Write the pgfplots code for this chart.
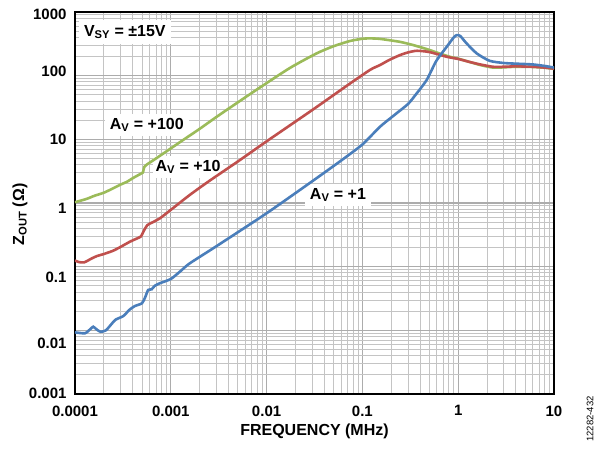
\documentclass[border=0pt]{standalone}
\usepackage{pgfplots}
\pgfplotsset{compat=1.18}
\usepackage{fontspec}
\setmainfont{Liberation Sans}
\definecolor{cgreen}{RGB}{155,187,89}
\definecolor{cred}{RGB}{192,80,77}
\definecolor{cblue}{RGB}{74,126,187}
\definecolor{gridmaj}{RGB}{172,172,172}
\definecolor{gridmin}{RGB}{196,196,196}
\newcommand{\lab}{\fontsize{16}{18}\selectfont\bfseries}
\newcommand{\tlab}{\fontsize{15}{17}\selectfont\bfseries}
\newcommand{\yl}[2]{\smash{\raisebox{#1}{#2}}}
\begin{document}
\begin{tikzpicture}
\useasboundingbox (0,0) rectangle (602pt,450pt);
\begin{axis}[
  at={(75pt,56pt)}, anchor=south west,
  width=479pt, height=382pt, scale only axis,
  xmode=log, ymode=log,
  xmin=1e-4, xmax=10, ymin=1e-3, ymax=1000,
  xtick={1e-4,1e-3,1e-2,1e-1,1,10},
  xticklabels={0.0001,0.001,0.01,0.1,1,10},
  ytick={1e-3,1e-2,1e-1,1,10,100,1000},
  yticklabels={\yl{-4.5pt}{0.001},\yl{-18.5pt}{0.01},\yl{-15.5pt}{0.1},\yl{-10.5pt}{1},\yl{-5.5pt}{10},\yl{-0.5pt}{100},\yl{-7.5pt}{1000}},
  /pgf/number format/assume math mode=true,
  grid=both,
  major grid style={color=gridmaj, line width=1.3pt},
  minor grid style={color=gridmin, line width=0.9pt},
  major tick length=0pt, minor tick length=0pt,
  axis line style={black, line width=1.5pt},
  ticklabel style={font=\tlab},
  xticklabel style={yshift=-8pt},
  yticklabel style={xshift=-5pt},
  xlabel={FREQUENCY (MHz)},
  ylabel={Z\textsubscript{OUT} (Ω)},
  label style={font=\lab},
  xlabel style={at={(axis description cs:0.5,-0.097)}, anchor=center},
  ylabel style={at={(axis description cs:-0.115,0.47)}, anchor=center},
]
\node[fill=white, inner xsep=5pt, inner ysep=5pt, font=\lab] at (rel axis cs:0.104,0.948) {V\textsubscript{SY} = ±15V};
\node[fill=white, inner xsep=5pt, inner ysep=4pt, font=\lab] at (rel axis cs:0.150,0.704) {A\textsubscript{V} = +100};
\node[fill=white, inner xsep=3pt, inner ysep=4pt, font=\lab] at (rel axis cs:0.236,0.594) {A\textsubscript{V} = +10};
\node[fill=white, inner xsep=5pt, inner ysep=4pt, font=\lab] at (rel axis cs:0.549,0.521) {A\textsubscript{V} = +1};
% A_V = +100
\addplot[cgreen, line width=2.6pt, smooth, tension=0.4] coordinates {
(1e-4,1.03) (1.3e-4,1.15) (1.6e-4,1.3) (2e-4,1.45) (2.5e-4,1.7) (3e-4,1.95)
(3.5e-4,2.16) (4e-4,2.45) (4.8e-4,2.85) (5.1e-4,3.0) (5.3e-4,3.7) (5.6e-4,4.0)
(7e-4,5.0) (1e-3,7.2) (1.35e-3,9.8) (2e-3,14.6) (3e-3,22.5) (5e-3,38) (8.5e-3,65)
(0.0175,132) (0.0333,224) (0.05,290) (0.074,350) (0.1,380) (0.12,385) (0.153,378)
(0.246,340) (0.34,302) (0.468,262) (0.645,222) (0.82,198) (1,185) (1.3,165)
(1.7,147) (2.3,134) (3,135) (4,138) (6,137) (8,133) (10,128)};
% A_V = +10
\addplot[cred, line width=2.6pt, smooth, tension=0.4] coordinates {
(1e-4,0.125) (1.1e-4,0.118) (1.25e-4,0.117) (1.5e-4,0.135) (1.7e-4,0.147)
(2e-4,0.158) (2.5e-4,0.178) (3e-4,0.205) (3.75e-4,0.247) (4.5e-4,0.28)
(4.9e-4,0.30) (5.2e-4,0.36) (5.7e-4,0.45) (6.5e-4,0.5) (7.7e-4,0.575)
(1e-3,0.78) (1.58e-3,1.34) (2.5e-3,2.2) (5.27e-3,4.73) (0.01,9.3) (0.0307,29.6)
(0.074,75) (0.121,124) (0.153,147) (0.19,176) (0.246,210) (0.3,232) (0.37,246)
(0.5,235) (0.76,198) (1,183) (1.3,165) (1.7,150) (2.3,138) (3,138) (4,140)
(6,138) (8,134) (10,129)};
% A_V = +1
\addplot[cblue, line width=2.6pt, smooth, tension=0.4] coordinates {
(1e-4,0.0093) (1.27e-4,0.009) (1.45e-4,0.0105) (1.55e-4,0.0114) (1.7e-4,0.0102)
(1.85e-4,0.0095) (2.1e-4,0.0100) (2.4e-4,0.0125) (2.65e-4,0.0147) (3.2e-4,0.0168)
(3.7e-4,0.021) (4.2e-4,0.024) (5e-4,0.0266) (5.4e-4,0.033) (5.8e-4,0.043)
(6.3e-4,0.044) (6.8e-4,0.05) (7.7e-4,0.055) (1e-3,0.064) (1.25e-3,0.084)
(1.58e-3,0.113) (3e-3,0.21) (0.01,0.69) (0.03,2.2) (0.0583,4.5) (0.1,8.3)
(0.153,15.8) (0.227,25.6) (0.3,36) (0.37,53) (0.47,86) (0.59,170) (0.76,285)
(0.9,400) (0.97,434) (1.05,420) (1.22,323) (1.56,224) (2.13,171) (3,158)
(3.76,155) (6,150) (8,142) (10,134)};
\end{axis}
\node[rotate=90, font=\fontsize{9.5}{10}\selectfont] at (590pt,31pt) {12282-432};
\end{tikzpicture}
\end{document}
